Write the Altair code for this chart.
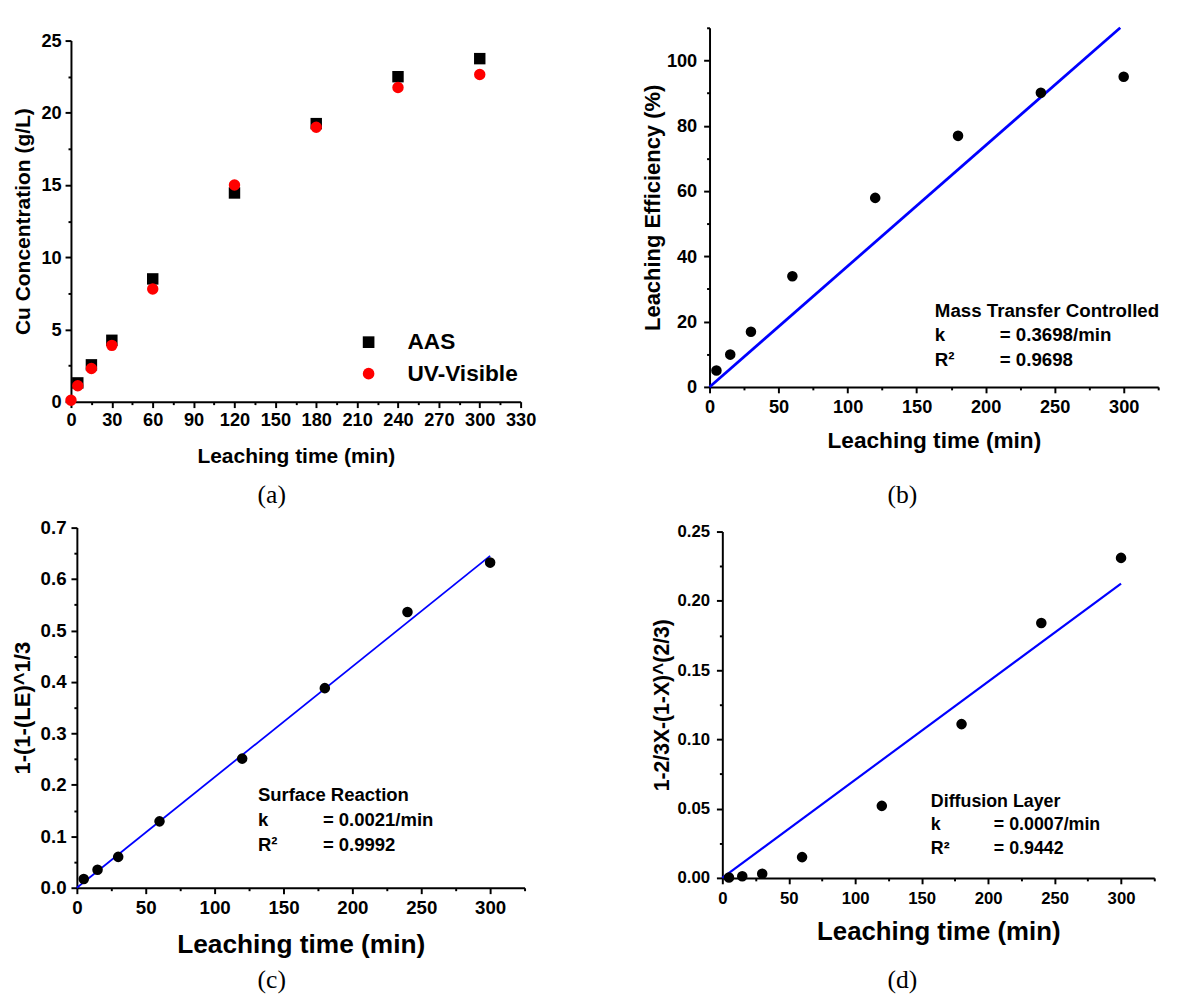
import altair as alt
import pandas as pd

# ---------------- data ----------------
time_a = [0, 5, 15, 30, 60, 120, 180, 240, 300]
aas = [None, 1.3, 2.55, 4.25, 8.5, 14.45, 19.25, 22.5, 23.75]
uv_visible = [0.1, 1.1, 2.3, 3.9, 7.8, 15.0, 19.0, 21.75, 22.65]
series_names = ["AAS", "UV-Visible"]

time_k = [5, 15, 30, 60, 120, 180, 240, 300]
leach_eff = [5.0, 9.9, 16.9, 33.9, 57.9, 76.9, 90.1, 95.0]
surface_rxn = [0.017, 0.035, 0.060, 0.129, 0.251, 0.388, 0.536, 0.632]
diffusion = [0.0003, 0.0012, 0.003, 0.015, 0.052, 0.111, 0.184, 0.231]

fit_b_x = [0, 297.5]
fit_b_y = [0, 110]
fit_c_x = [0, 300]
fit_c_y = [0.0, 0.645]
fit_d_x = [0, 300]
fit_d_y = [0.0, 0.2125]

ann_b = ["Mass Transfer Controlled", "k", "= 0.3698/min", "R\u00b2", "= 0.9698"]
ann_c = ["Surface Reaction", "k", "= 0.0021/min", "R\u00b2", "= 0.9992"]
ann_d = ["Diffusion Layer", "k", "= 0.0007/min", "R\u00b2", "= 0.9442"]
panel_labels = ["(a)", "(b)", "(c)", "(d)"]

ticks_a_x = list(range(0, 331, 15))
ticks_a_y = [i * 2.5 for i in range(11)]
ticks_k_x = list(range(0, 326, 25))
ticks_b_y = list(range(0, 111, 10))
ticks_c_y = [round(i * 0.05, 3) for i in range(15)]
ticks_d_y = [round(i * 0.025, 4) for i in range(11)]

# ---------------- styling ----------------
FONT = "Liberation Sans"
BLUE = "#0000ff"


def make_axis(title, values, major, fmt, lsize, tsize, lpad, tpad, offset=0):
    return alt.Axis(
        title=title, values=values, format=fmt,
        labelExpr=f"({major}) ? datum.label : ''",
        tickSize={"condition": {"test": f"!({major})", "value": 3}, "value": 6},
        labelFontSize={"condition": {"test": f"!({major})", "value": 0}, "value": lsize},
        labelFont=FONT, titleFont=FONT, labelFontWeight="bold", titleFontWeight="bold",
        titleFontSize=tsize, labelPadding=lpad, titlePadding=tpad,
        labelColor="black", titleColor="black", domainColor="black", tickColor="black",
        domainWidth=2, tickWidth=2, grid=False, labelFlush=False, labelOverlap=False,
        offset=offset,
    )


def text_layer(lines, xs, ys, sx, sy, ax_x, ax_y, size):
    df = pd.DataFrame({"time": xs, "val": ys, "t": lines})
    return alt.Chart(df).mark_text(
        align="left", baseline="middle", font=FONT, fontWeight="bold",
        fontSize=size, color="black"
    ).encode(
        x=alt.X("time:Q", scale=sx, axis=ax_x),
        y=alt.Y("val:Q", scale=sy, axis=ax_y),
        text="t:N",
    )


def label_layer(text, px, py):
    df = pd.DataFrame({"lab": [text]})
    return alt.Chart(df).mark_text(
        font="Liberation Serif", fontSize=26, color="black",
        align="center", baseline="middle"
    ).encode(x=alt.value(px), y=alt.value(py), text="lab:N")


X_TITLE = "Leaching time (min)"

# ---------------- panel (a) ----------------
rows = []
for s, vals in zip(series_names, [aas, uv_visible]):
    for t, v in zip(time_a, vals):
        if v is not None:
            rows.append({"time": t, "value": v, "series": s})
df_a = pd.DataFrame(rows)

sx_a = alt.Scale(domain=[0, 330], range=[-6, 451], nice=False, zero=False)
sy_a = alt.Scale(domain=[0, 25], range=[380, 13], nice=False, zero=False)
leg = alt.Legend(
    orient="none", legendX=285, legendY=308, title=None,
    labelFont=FONT, labelFontWeight="bold", labelFontSize=23, labelColor="black",
    symbolSize=140, labelOffset=28, rowPadding=8, padding=0, symbolStrokeWidth=0,
)
pts_a = alt.Chart(df_a).mark_point(filled=True, size=135, opacity=1).encode(
    x=alt.X("time:Q", scale=sx_a,
            axis=make_axis(X_TITLE, ticks_a_x, "datum.value % 30 === 0", "d", 18.5, 21.3, 3, 17)),
    y=alt.Y("value:Q", scale=sy_a,
            axis=make_axis("Cu Concentration (g/L)", ticks_a_y, "datum.value % 5 === 0", "d",
                           18.5, 21.3, 4, 8, offset=6)),
    color=alt.Color("series:N", scale=alt.Scale(domain=series_names, range=["black", "red"]), legend=leg),
    shape=alt.Shape("series:N", scale=alt.Scale(domain=series_names, range=["square", "circle"]), legend=leg),
    order=alt.Order("series:N"),
)
panel_a = alt.layer(pts_a, label_layer(panel_labels[0], 198, 475)).properties(width=451, height=380)


# ---------------- kinetic panels ----------------
def kinetic_panel(yvals, fit_x, fit_y, sx, sy, xaxis, yaxis, ann, ann_x, ann_ex, ann_y, ann_size,
                  lw, lab, lab_x, lab_y, w, h):
    df = pd.DataFrame({"time": time_k, "val": yvals})
    fit = pd.DataFrame({"time": fit_x, "val": fit_y})
    line = alt.Chart(fit).mark_line(color=BLUE, strokeWidth=lw).encode(
        x=alt.X("time:Q", scale=sx, axis=xaxis),
        y=alt.Y("val:Q", scale=sy, axis=yaxis),
    )
    pts = alt.Chart(df).mark_circle(color="black", size=115, opacity=1).encode(
        x=alt.X("time:Q", scale=sx, axis=xaxis),
        y=alt.Y("val:Q", scale=sy, axis=yaxis),
    )
    xs = [ann_x, ann_x, ann_ex, ann_x, ann_ex]
    ys = [ann_y[0], ann_y[1], ann_y[1], ann_y[2], ann_y[2]]
    txt = text_layer(ann, xs, ys, sx, sy, xaxis, yaxis, ann_size)
    return alt.layer(line, pts, txt, label_layer(lab, lab_x, lab_y)).properties(width=w, height=h)


k_major = "datum.value % 50 === 0"

sx_b = alt.Scale(domain=[0, 325], range=[-13, 443], nice=False, zero=False)
sy_b = alt.Scale(domain=[0, 110], nice=False, zero=False)
panel_b = kinetic_panel(
    leach_eff, fit_b_x, fit_b_y, sx_b, sy_b,
    make_axis(X_TITLE, ticks_k_x, k_major, "d", 18.5, 23, 5, 14),
    make_axis("Leaching Efficiency (%)", ticks_b_y, "datum.value % 20 === 0", "d", 18.5, 22.3, 7, 2, offset=13),
    ann_b, 163.2, 210.2, [23.2, 16.0, 8.1], 19, 2.8,
    panel_labels[1], 183, 475, 443, 365,
)

sx_c = alt.Scale(domain=[0, 325], nice=False, zero=False)
sy_c = alt.Scale(domain=[0, 0.7], nice=False, zero=False)
panel_c = kinetic_panel(
    surface_rxn, fit_c_x, fit_c_y, sx_c, sy_c,
    make_axis(X_TITLE, ticks_k_x, k_major, "d", 19, 26.7, 5.5, 14),
    make_axis("1-(1-(LE)^1/3", ticks_c_y, "abs(datum.value*10 - round(datum.value*10)) < 1e-6", ".1f",
              19, 22.4, 5, 5.4),
    ann_c, 131.4, 178.6, [0.1797, 0.132, 0.0822], 18.8, 1.8,
    panel_labels[2], 198, 460, 455, 366,
)

sx_d = alt.Scale(domain=[0, 325], nice=False, zero=False)
sy_d = alt.Scale(domain=[0, 0.25], range=[356, 4], nice=False, zero=False)
panel_d = kinetic_panel(
    diffusion, fit_d_x, fit_d_y, sx_d, sy_d,
    make_axis(X_TITLE, ticks_k_x, k_major, "d", 17, 26.2, 7.5, 12.5),
    make_axis("1-2/3X-(1-X)^(2/3)", ticks_d_y, "abs(datum.value*20 - round(datum.value*20)) < 1e-6", ".2f",
              17, 21.5, 7, 4),
    ann_d, 156.9, 204.3, [0.0547, 0.0384, 0.0206], 18.1, 2.2,
    panel_labels[3], 183, 460, 439, 356,
)

chart = alt.concat(
    panel_a, panel_b, panel_c, panel_d,
    columns=2, spacing={"row": 128, "column": 201}, bounds="flush", align="none",
).properties(
    padding={"left": 4, "top": 6, "right": 0, "bottom": 0}
).configure_view(stroke=None)

chart.save("out.html", embed_options={"renderer": "svg", "actions": False})
